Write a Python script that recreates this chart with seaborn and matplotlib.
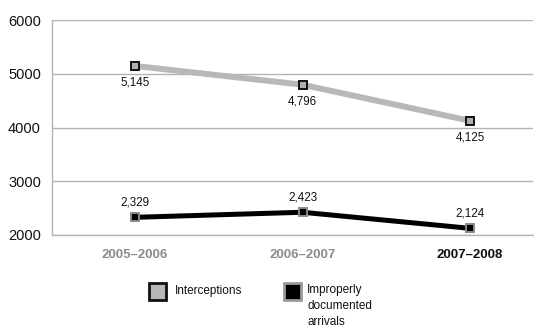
import matplotlib
matplotlib.use("Agg")
import matplotlib.pyplot as plt
import seaborn as sns
import pandas as pd
from matplotlib.patches import Rectangle

periods = ["2005–2006", "2006–2007", "2007–2008"]
interceptions = [5145, 4796, 4125]
improper_arrivals = [2329, 2423, 2124]
series_names = ["Interceptions", "Improperly\ndocumented\narrivals"]
y_ticks = [2000, 3000, 4000, 5000, 6000]

sns.set_style("white")
plt.rcParams["font.family"] = ["Liberation Sans", "DejaVu Sans"]

df = pd.DataFrame({"x": list(range(len(periods))), "period": periods,
                   "inter": interceptions, "impr": improper_arrivals})

fig = plt.figure(figsize=(5.34, 3.27), dpi=100)
ax = fig.add_axes([52 / 534, 92 / 327, 481 / 534, 215 / 327])

light = "#b8b8b8"
sns.lineplot(data=df, x="x", y="inter", ax=ax, color=light, linewidth=4.3,
             marker="s", markersize=6.0, markerfacecolor="#b0b0b0",
             markeredgecolor="#111111", markeredgewidth=1.4, zorder=3)
sns.lineplot(data=df, x="x", y="impr", ax=ax, color="#000000", linewidth=3.6,
             marker="s", markersize=6.0, markerfacecolor="#000000",
             markeredgecolor="#8a8a8a", markeredgewidth=1.4, zorder=3)

ax.set_xlim(-0.4955, 2.376)
ax.set_ylim(2000, 6000)
ax.set_yticks(y_ticks)
ax.set_yticklabels([str(v) for v in y_ticks], fontsize=10.5, color="#111111")
ax.set_xticks(df["x"])
ax.set_xticklabels(periods, fontsize=9.5, fontweight="bold")
for i, lab in enumerate(ax.get_xticklabels()):
    lab.set_color("#111111" if i == len(periods) - 1 else "#8c8c8c")
ax.tick_params(axis="y", length=0, pad=8)
ax.tick_params(axis="x", length=0, pad=10)
ax.set_xlabel("")
ax.set_ylabel("")
ax.yaxis.grid(True, color="#b3b3b3", linewidth=1.0)
ax.set_axisbelow(True)
for s in ["top", "right"]:
    ax.spines[s].set_visible(False)
for s in ["left", "bottom"]:
    ax.spines[s].set_color("#b3b3b3")
    ax.spines[s].set_linewidth(1.0)

for x, v in zip(df["x"], interceptions):
    ax.annotate(f"{v:,}", (x, v), xytext=(0, -12), textcoords="offset points",
                ha="center", va="center", fontsize=8.4, color="#111111")
for x, v in zip(df["x"], improper_arrivals):
    ax.annotate(f"{v:,}", (x, v), xytext=(0, 10.5), textcoords="offset points",
                ha="center", va="center", fontsize=8.4, color="#111111")

# legend drawn manually (figure pixel coords)
W, H = 534, 327
def rect(x0, y0, w, h, fc, ec):
    fig.add_artist(Rectangle((x0 / W, 1 - (y0 + h) / H), w / W, h / H,
                             transform=fig.transFigure, facecolor=fc,
                             edgecolor=ec, linewidth=2.0))
rect(149, 283, 17, 17, "#b8b8b8", "#111111")
rect(284, 283, 17, 17, "#000000", "#9a9a9a")
fig.text(175 / W, 1 - 291 / H, series_names[0], fontsize=8.5, va="center",
         ha="left", color="#111111")
fig.text(307 / W, 1 - 284 / H, series_names[1], fontsize=8.5, va="top",
         ha="left", color="#111111", linespacing=1.45)

fig.savefig("out.png", dpi=100)
